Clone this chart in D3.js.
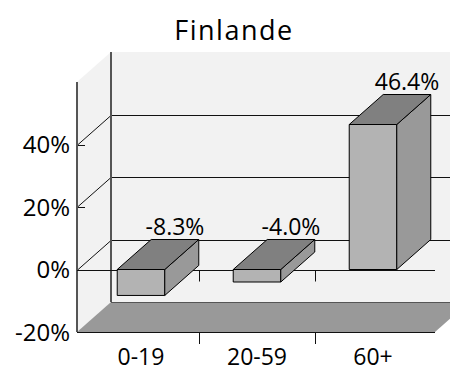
<!DOCTYPE html>
<html>
<head>
<meta charset="utf-8">
<script src="https://cdn.jsdelivr.net/npm/d3@7"></script>
<style>
  html, body { margin: 0; padding: 0; background: #fff; }
  svg { display: block; }
  text { font-family: "Open Sans", "Noto Sans", sans-serif; fill: #000; }
</style>
</head>
<body>
<svg id="chart" width="450" height="372"></svg>
<script>
// Population change by age group
const title = "Finlande";
const categories = ["0-19", "20-59", "60+"];
const values = [-8.3, -4.0, 46.4];
const yTickValues = [-20, 0, 20, 40];
const yDomain = [-20, 60];

const svg = d3.select("#chart");

// 3D box geometry: front plane and depth offset
const front = { left: 77, right: 435, top: 82, bottom: 332 };
const depth = { dx: 34, dy: -30 };

const y = d3.scaleLinear().domain(yDomain).range([front.bottom, front.top]);
const x = d3.scaleBand().domain(categories).range([83, 431]).padding(0);
const barW = x.bandwidth() * 0.41;

// plain hyphen for negatives
const fmt = v => d3.format(".1f")(v).replace("\u2212", "-") + "%";
const pts = arr => arr.map(p => p.join(",")).join(" ");

const wallFill = "#f2f2f2";
const axisGray = "#555";

// back wall
svg.append("polygon")
  .attr("points", pts([
    [front.left + depth.dx, y(yDomain[1]) + depth.dy],
    [front.right + depth.dx, y(yDomain[1]) + depth.dy],
    [front.right + depth.dx, y(yDomain[0]) + depth.dy],
    [front.left + depth.dx, y(yDomain[0]) + depth.dy]
  ]))
  .attr("fill", wallFill);

// side wall
svg.append("polygon")
  .attr("points", pts([
    [front.left, y(yDomain[1])],
    [front.left + depth.dx, y(yDomain[1]) + depth.dy],
    [front.left + depth.dx, y(yDomain[0]) + depth.dy],
    [front.left, y(yDomain[0])]
  ]))
  .attr("fill", wallFill);

// floor
svg.append("polygon")
  .attr("points", pts([
    [front.left, y(yDomain[0])],
    [front.right, y(yDomain[0])],
    [front.right + depth.dx, y(yDomain[0]) + depth.dy],
    [front.left + depth.dx, y(yDomain[0]) + depth.dy]
  ]))
  .attr("fill", "#999");

// gridlines: back wall + side wall diagonals
const grid = svg.append("g").attr("stroke", "#111").attr("stroke-width", 1).attr("fill", "none");
[0, 20, 40].forEach(v => {
  const yy = Math.round(y(v)) + 0.5;
  grid.append("line")
    .attr("x1", front.left + depth.dx).attr("x2", front.right + depth.dx)
    .attr("y1", yy + depth.dy).attr("y2", yy + depth.dy);
  grid.append("line")
    .attr("x1", front.left).attr("x2", front.left + depth.dx)
    .attr("y1", yy).attr("y2", yy + depth.dy);
  grid.append("line")
    .attr("x1", front.left).attr("x2", front.left + 8)
    .attr("y1", yy).attr("y2", yy);
});

// floor back edge
svg.append("line")
  .attr("x1", front.left + depth.dx).attr("x2", front.right + depth.dx)
  .attr("y1", Math.round(y(yDomain[0]) + depth.dy) + 0.5)
  .attr("y2", Math.round(y(yDomain[0]) + depth.dy) + 0.5)
  .attr("stroke", "#555").attr("stroke-width", 1);

// floor front edge
svg.append("line")
  .attr("x1", front.left).attr("x2", front.right)
  .attr("y1", Math.round(y(yDomain[0])) + 0.5).attr("y2", Math.round(y(yDomain[0])) + 0.5)
  .attr("stroke", "#111").attr("stroke-width", 1);

// vertical axis lines (front and back corner)
svg.append("line")
  .attr("x1", front.left).attr("x2", front.left)
  .attr("y1", y(yDomain[1])).attr("y2", y(yDomain[0]))
  .attr("stroke", axisGray).attr("stroke-width", 2);
svg.append("line")
  .attr("x1", front.left + depth.dx).attr("x2", front.left + depth.dx)
  .attr("y1", y(yDomain[1]) + depth.dy).attr("y2", y(yDomain[0]) + depth.dy)
  .attr("stroke", axisGray).attr("stroke-width", 2);

// category axis at zero on the front plane
const y0 = Math.round(y(0)) + 0.5;
svg.append("line")
  .attr("x1", front.left).attr("x2", front.right)
  .attr("y1", y0).attr("y2", y0)
  .attr("stroke", "#111").attr("stroke-width", 1);

// category tick marks at band boundaries (zero line and below floor)
const boundaries = categories.slice(1).map(c => Math.round(x(c)) + 0.5);
const ticks = svg.append("g").attr("stroke", "#111").attr("stroke-width", 1);
boundaries.forEach(bx => {
  ticks.append("line").attr("x1", bx).attr("x2", bx).attr("y1", y0).attr("y2", y0 + 11);
  ticks.append("line").attr("x1", bx).attr("x2", bx)
    .attr("y1", Math.round(y(yDomain[0])) + 0.5).attr("y2", Math.round(y(yDomain[0])) + 12);
});

// bars
const bars = svg.append("g").attr("stroke", "#000").attr("stroke-width", 1).attr("stroke-linejoin", "round");
categories.forEach((c, i) => {
  const v = values[i];
  const cx = x(c) + x.bandwidth() / 2;
  const x0 = cx - barW / 2, x1 = cx + barW / 2;
  const yt = y(Math.max(v, 0)), yb = y(Math.min(v, 0));
  const dx = depth.dx, dy = depth.dy;
  // front face
  bars.append("polygon")
    .attr("points", pts([[x0, yt], [x1, yt], [x1, yb], [x0, yb]]))
    .attr("fill", "#b3b3b3");
  // side face
  bars.append("polygon")
    .attr("points", pts([[x1, yt], [x1 + dx, yt + dy], [x1 + dx, yb + dy], [x1, yb]]))
    .attr("fill", "#999");
  // top face
  bars.append("polygon")
    .attr("points", pts([[x0, yt], [x0 + dx, yt + dy], [x1 + dx, yt + dy], [x1, yt]]))
    .attr("fill", "#808080");
  // value label above the back of the top
  svg.append("text")
    .attr("x", cx + dx)
    .attr("y", yt + dy - 5)
    .attr("text-anchor", "middle")
    .attr("font-size", 23)
    .text(fmt(v));
});

// value axis labels
svg.append("g").selectAll("text")
  .data(yTickValues)
  .join("text")
  .attr("x", 70)
  .attr("y", d => y(d))
  .attr("dy", "0.36em")
  .attr("text-anchor", "end")
  .attr("font-size", 24)
  .text(d => d + "%");

// category labels
svg.append("g").selectAll("text")
  .data(categories)
  .join("text")
  .attr("x", d => x(d) + x.bandwidth() / 2)
  .attr("y", 365)
  .attr("text-anchor", "middle")
  .attr("font-size", 23)
  .text(d => d);

// title
svg.append("text")
  .attr("x", 234)
  .attr("y", 40)
  .attr("text-anchor", "middle")
  .attr("font-size", 27)
  .attr("letter-spacing", 1.5)
  .text(title);
</script>
</body>
</html>
